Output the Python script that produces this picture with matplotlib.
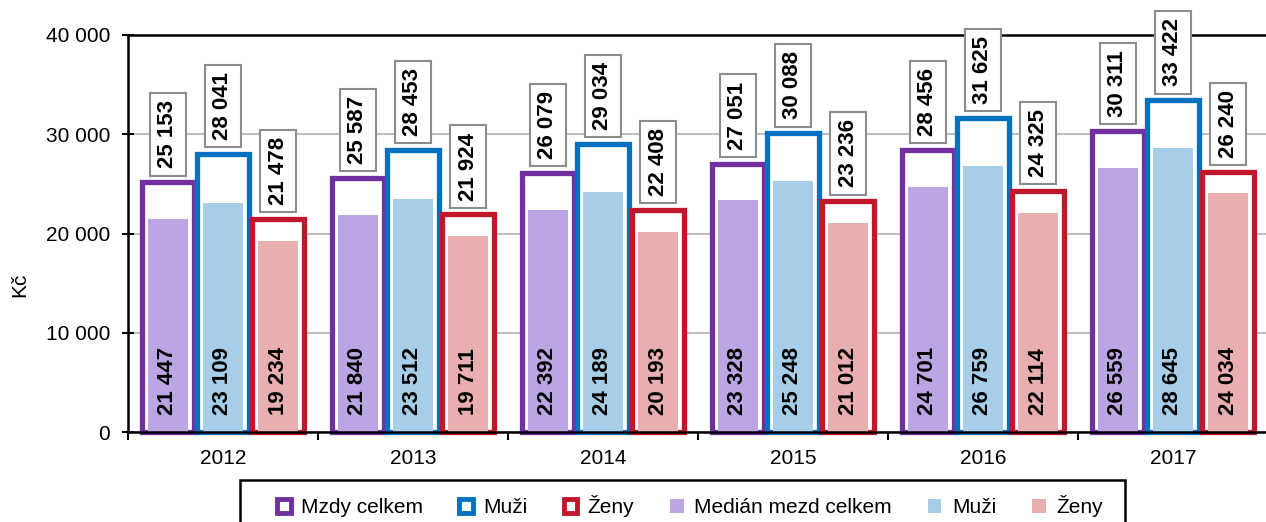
import numpy as np
import matplotlib
matplotlib.use("Agg")
import matplotlib.pyplot as plt
from matplotlib.patches import Patch, Rectangle
from matplotlib.ticker import FuncFormatter

plt.rcParams['font.family'] = ['Liberation Sans', 'DejaVu Sans']
plt.rcParams['font.size'] = 15

years = ["2012", "2013", "2014", "2015", "2016", "2017"]
avg_total = [25153, 25587, 26079, 27051, 28456, 30311]
avg_men = [28041, 28453, 29034, 30088, 31625, 33422]
avg_women = [21478, 21924, 22408, 23236, 24325, 26240]
med_total = [21447, 21840, 22392, 23328, 24701, 26559]
med_men = [23109, 23512, 24189, 25248, 26759, 28645]
med_women = [19234, 19711, 20193, 21012, 22114, 24034]

edge_cols = ["#7030A0", "#0070C0", "#C0182A"]
fill_cols = ["#BBA5E3", "#A6CEE8", "#E8AEB0"]

def fmt(v):
    return "{:,}".format(int(v)).replace(",", " ")

W, H = 1266, 522
fig = plt.figure(figsize=(W / 100, H / 100), dpi=100)
ax = fig.add_axes([128 / W, 90 / H, 1140 / W, 397 / H])

x = np.arange(len(years))
offsets = [-0.29, 0.0, 0.29]
w_out = 0.275
w_in = 0.21

avgs = [avg_total, avg_men, avg_women]
meds = [med_total, med_men, med_women]

for k in range(3):
    xs = x + offsets[k]
    ax.bar(xs, avgs[k], width=w_out, facecolor="white", edgecolor=edge_cols[k],
           linewidth=3.8, zorder=2, clip_on=False)
    ax.bar(xs, meds[k], width=w_in, color=fill_cols[k], linewidth=0, zorder=2.2)
    for xi, a, m in zip(xs, avgs[k], meds[k]):
        ax.annotate(fmt(a), (xi, a), xytext=(0, 10), textcoords="offset points",
                    rotation=90, ha="center", va="bottom", fontweight="bold", fontsize=16,
                    zorder=10, annotation_clip=False,
                    bbox=dict(boxstyle="square,pad=0.32", fc="white", ec="#8C8C8C", lw=1.5))
        ax.annotate(fmt(m), (xi, 0), xytext=(0, 12), textcoords="offset points",
                    rotation=90, ha="center", va="bottom", fontweight="bold", fontsize=16,
                    zorder=5)

ax.set_xlim(-0.5, len(years) - 0.5)
ax.set_ylim(0, 40000)
ax.set_yticks(np.arange(0, 40001, 10000))
ax.yaxis.set_major_formatter(FuncFormatter(lambda v, p: fmt(v)))
ax.tick_params(axis="y", direction="inout", length=8, width=1.5, pad=9)
ax.grid(axis="y", color="#C0C0C0", linewidth=1.5, zorder=0)
ax.set_axisbelow(True)

ax.set_xticks(np.arange(-0.5, len(years), 1.0))
ax.set_xticklabels([])
ax.set_xticks(x, minor=True)
ax.set_xticklabels(years, minor=True)
ax.tick_params(axis="x", which="major", direction="out", length=6, width=1.5)
ax.tick_params(axis="x", which="minor", length=0, pad=12)

for s in ["left", "bottom", "top", "right"]:
    ax.spines[s].set_linewidth(1.8)
    ax.spines[s].set_color("black")

fig.text(20 / W, 237 / H, "Kč", rotation=90, ha="center", va="center")

# legend box (frame drawn separately, wider than the entries)
fig.patches.append(Rectangle((240 / W, -0.05), 885 / W, 0.05 + (H - 480) / H,
                             transform=fig.transFigure, facecolor="white",
                             edgecolor="black", linewidth=1.8, zorder=0))

handles = [Patch(facecolor="white", edgecolor=edge_cols[k], linewidth=3.5) for k in range(3)]
handles += [Patch(facecolor=fill_cols[k], edgecolor="none") for k in range(3)]
labels = ["Mzdy celkem", "Muži", "Ženy", "Medián mezd celkem", "Muži", "Ženy"]
leg = fig.legend(handles, labels, loc="center", bbox_to_anchor=(690 / W, 1 - 506 / H),
                 ncol=6, frameon=False, handlelength=0.65, handleheight=0.65,
                 handletextpad=0.5, columnspacing=1.73)

fig.savefig("out.png", dpi=100)
